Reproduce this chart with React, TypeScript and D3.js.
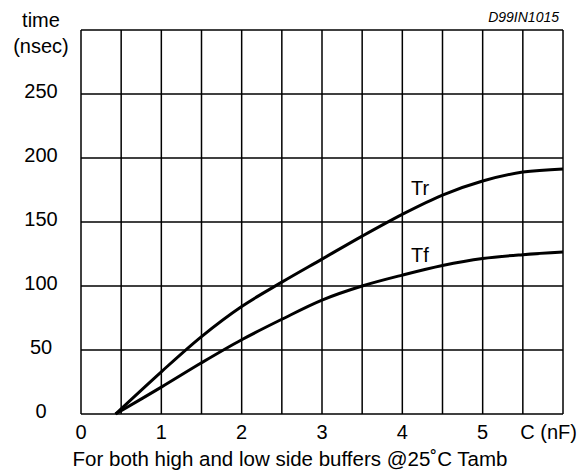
import React from 'react';
import * as d3 from 'd3';

// capacitance (nF) and switching times (nsec)
const capNF = [0.43, 1, 1.5, 2, 2.5, 3, 3.5, 4, 4.5, 5, 5.5, 6];
const trValues = [0, 33, 60.5, 84, 103, 121, 139, 156, 171, 182, 189, 191.5];
const tfValues = [0, 21, 40, 58, 74, 89, 100, 108.5, 116, 121.5, 124.5, 126.5];

const xGrid = d3.range(0, 6.01, 0.5);
const yGrid = d3.range(0, 301, 50);
const xTickLabels = [0, 1, 2, 3, 4, 5];
const yTickLabels = [0, 50, 100, 150, 200, 250];

const W = 580;
const H = 474;
const font = '"Liberation Sans", Arial, sans-serif';

const App = () => {
    const x = d3.scaleLinear().domain([0, 6]).range([81, 563]);
    const y = d3.scaleLinear().domain([0, 300]).range([414, 30]);

    const line = d3.line<number>()
        .x((d, i) => x(capNF[i]))
        .y(d => y(d))
        .curve(d3.curveCatmullRom.alpha(0.5));

    return (
        <svg width={W} height={H} style={{ position: 'absolute', left: 0, top: 0 }}>
            <rect width={W} height={H} fill="white" />
            {/* grid */}
            <g stroke="black" strokeWidth={1.5}>
                {xGrid.map(v => (
                    <line key={'x' + v} x1={x(v)} x2={x(v)} y1={y(0)} y2={y(300)} />
                ))}
                {yGrid.map(v => (
                    <line key={'y' + v} x1={x(0)} x2={x(6)} y1={y(v)} y2={y(v)} />
                ))}
            </g>

            {/* curves */}
            <path d={line(trValues) || ''} fill="none" stroke="black" strokeWidth={3} />
            <path d={line(tfValues) || ''} fill="none" stroke="black" strokeWidth={3} />
            <text x={x(4.22)} y={y(171)} fontFamily={font} fontSize={20} textAnchor="middle">Tr</text>
            <text x={x(4.22)} y={y(119)} fontFamily={font} fontSize={20} textAnchor="middle">Tf</text>

            {/* y labels */}
            {yTickLabels.map(v => (
                <text key={v} x={41} y={y(v) + 4} fontFamily={font} fontSize={20}
                    textAnchor="middle">{v}</text>
            ))}
            <text x={41} y={27} fontFamily={font} fontSize={20} textAnchor="middle">time</text>
            <text x={41} y={53} fontFamily={font} fontSize={20} textAnchor="middle">(nsec)</text>

            {/* x labels */}
            {xTickLabels.map(v => (
                <text key={v} x={x(v)} y={439} fontFamily={font} fontSize={20}
                    textAnchor="middle">{v}</text>
            ))}
            <text x={577} y={439} fontFamily={font} fontSize={20} textAnchor="end">C (nF)</text>

            <text x={290} y={466} fontFamily={font} fontSize={20.5} textAnchor="middle">
                For both high and low side buffers @25˚C Tamb
            </text>
            <text x={559} y={22} fontFamily={font} fontSize={14} fontStyle="italic"
                textAnchor="end">D99IN1015</text>
        </svg>
    );
};

export default App;
